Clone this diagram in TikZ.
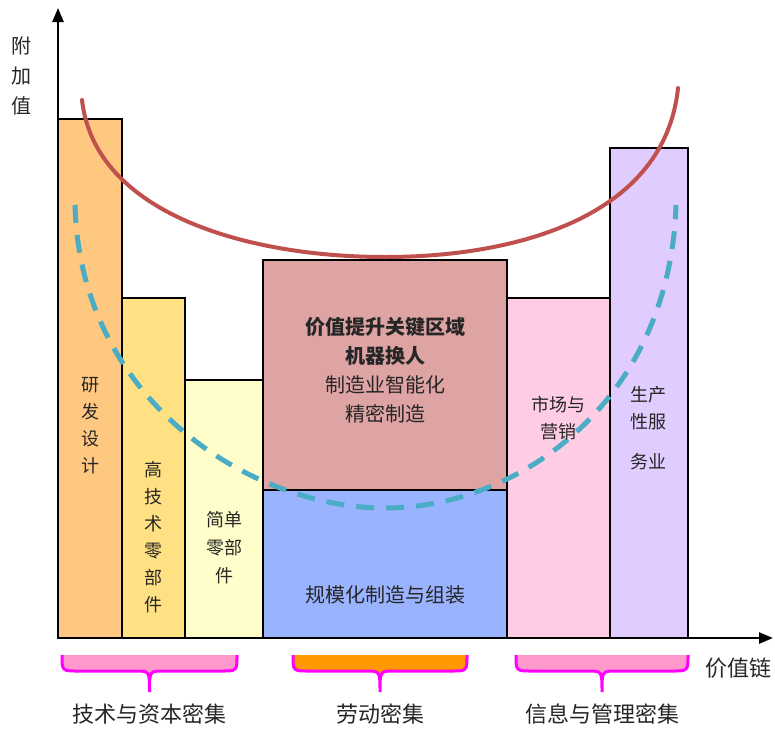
\documentclass[tikz,border=0pt]{standalone}
\usepackage{fontspec}
\setmainfont{Noto Sans CJK SC}
\usetikzlibrary{arrows.meta}
\definecolor{yfcol}{HTML}{FFC880}
\definecolor{gjcol}{HTML}{FFE184}
\definecolor{jdcol}{HTML}{FFFDC9}
\definecolor{zzcol}{HTML}{DDA4A3}
\definecolor{gmcol}{HTML}{99B3FF}
\definecolor{yxcol}{HTML}{FFCCE5}
\definecolor{fwcol}{HTML}{E1CCFF}
\definecolor{smilecol}{HTML}{C0504D}
\definecolor{dashcol}{HTML}{4BACC6}
\definecolor{brpink}{HTML}{FF99CC}
\definecolor{brorange}{HTML}{FF9900}
\definecolor{brline}{HTML}{FF00FF}

\begin{document}
\begin{tikzpicture}[x=1pt,y=-1pt,
    bar/.style={draw=black,line width=1.2pt},
    lbl/.style={align=center,text=black!85,font=\fontsize{18}{27}\selectfont},
    big/.style={align=center,text=black!85,font=\fontsize{22}{30}\selectfont}]
  \useasboundingbox (0,0) rectangle (775,731);
  %AXES
  \coordinate (O) at (58,638);
  \coordinate (ytop) at (58,8);
  \coordinate (xend) at (773,638);

  %bars
  \draw[bar,fill=yfcol] (58,638) rectangle (122,119);
  \draw[bar,fill=gjcol] (122,638) rectangle (185,298);
  \draw[bar,fill=jdcol] (185,638) rectangle (263,380);
  \draw[bar,fill=zzcol] (263,490) rectangle (507,260);
  \draw[bar,fill=gmcol] (263,638) rectangle (507,490);
  \draw[bar,fill=yxcol] (507,638) rectangle (610,298);
  \draw[bar,fill=fwcol] (610,638) rectangle (688,148);

  \draw[-{Triangle[length=14pt,width=11pt]},line width=2.5pt] (O) -- (ytop);
  \draw[-{Triangle[length=14pt,width=11pt]},line width=2.5pt] (O) -- (xend);

  %curves
  \draw[smilecol,line width=4pt,line cap=round] (82,100) .. controls (95,215) and (250,257) .. (385,257)
        .. controls (520,257) and (665,215) .. (678,88);
  \draw[dashcol,line width=5pt,dash pattern=on 18pt off 12pt] (75,205) .. controls (80,400) and (250,508) .. (385,508)
        .. controls (520,508) and (670,400) .. (676,205);

  %labels
  \node[big,font=\fontsize{20}{30}\selectfont] (fjz) at (22,76) {附\\加\\值};
  \node[lbl] (yfsj) at (90,426) {研\\发\\设\\计};
  \node[lbl] (gjs) at (153,537) {高\\技\\术\\零\\部\\件};
  \node[lbl,font=\fontsize{18}{28}\selectfont] (jdlb) at (224,548) {简单\\零部\\件};
  \node[lbl,font=\fontsize{20}{29}\selectfont] (gjqy) at (385,370)
        {\textbf{价值提升关键区域}\\\textbf{机器换人}\\制造业智能化\\精密制造};
  \node[lbl,font=\fontsize{20}{29}\selectfont] (gmh) at (385,595) {规模化制造与组装};
  \node[lbl] (scyx) at (558,418) {市场与\\营销};
  \node[lbl] (scfw) at (648,408) {生产\\性服};
  \node[lbl] (wy) at (648,462) {务业};
  \node[big] (jzl) at (738,668) {价值链};

  %braces
  \foreach \xa/\xb/\col/\name/\txt in {62/237/brpink/jszb/技术与资本密集,
      293/467/brorange/ldmj/劳动密集, 516/688/brpink/xxgl/信息与管理密集}{
    \pgfmathsetmacro{\xm}{(\xa+\xb)/2}
    \fill[\col] (\xa,655) .. controls (\xa,671) .. (\xa+16,671) -- (\xm-14,671)
        .. controls (\xm,671) .. (\xm,692) .. controls (\xm,671) .. (\xm+14,671)
        -- (\xb-16,671) .. controls (\xb,671) .. (\xb,655) -- cycle;
    \draw[brline,line width=3pt] (\xa,655) .. controls (\xa,671) .. (\xa+16,671) -- (\xm-14,671)
        .. controls (\xm,671) .. (\xm,692) .. controls (\xm,671) .. (\xm+14,671)
        -- (\xb-16,671) .. controls (\xb,671) .. (\xb,655);
    \node[big] (\name) at (\xm,714) {\txt};
  }
\end{tikzpicture}
\end{document}
